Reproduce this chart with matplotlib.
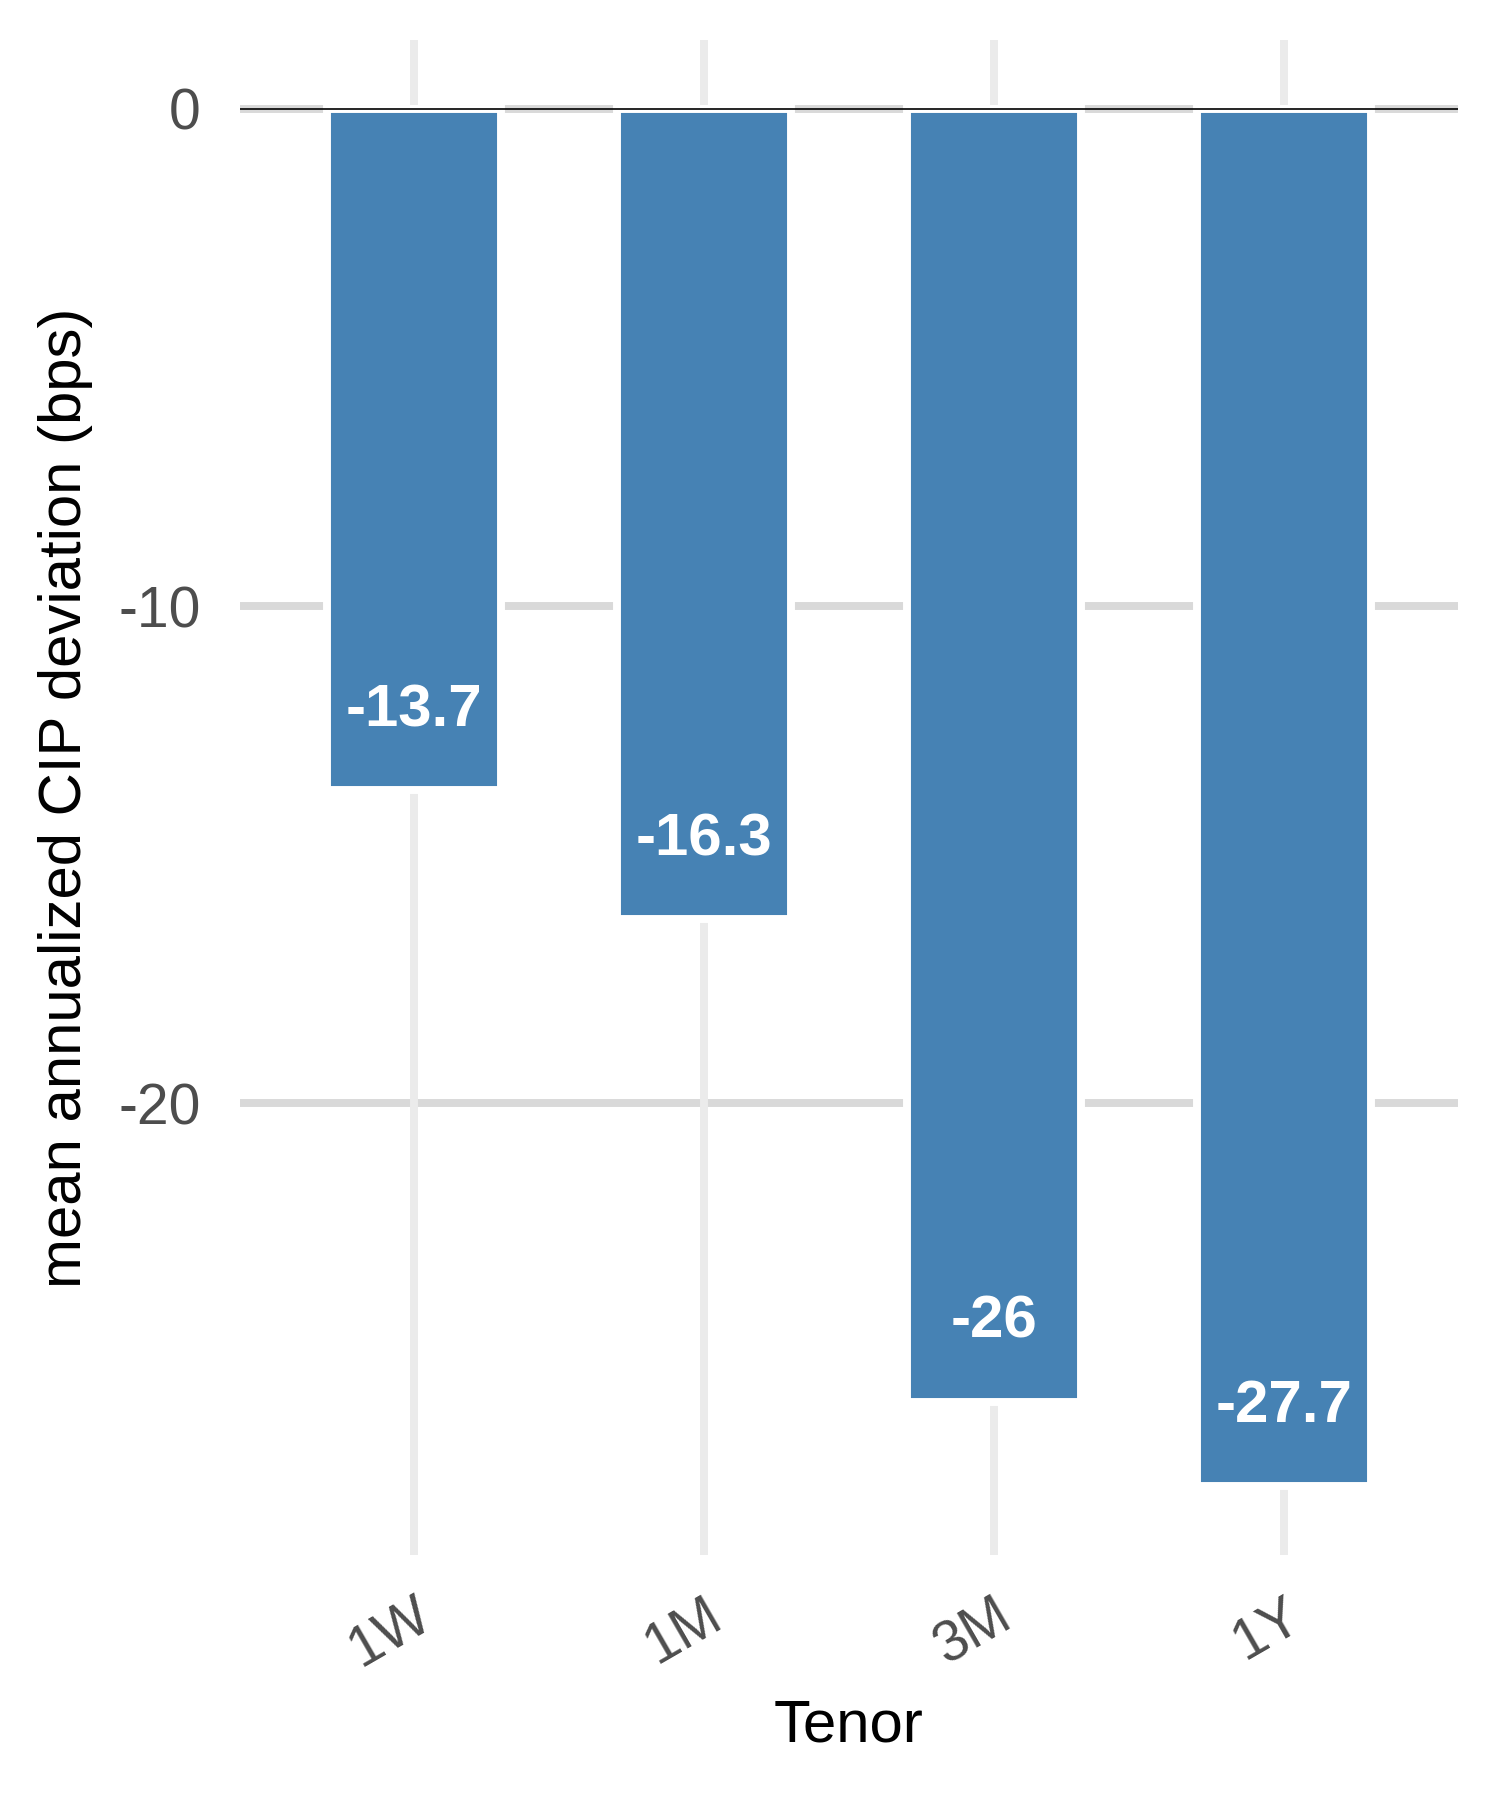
import matplotlib
matplotlib.use("Agg")
import matplotlib.pyplot as plt

plt.rcParams['font.family'] = ['Liberation Sans', 'DejaVu Sans']
plt.rcParams['axes.unicode_minus'] = False

# data
tenors = ['1W', '1M', '3M', '1Y']
cip_mean = [-13.7, -16.3, -26.0, -27.7]
bar_labels = ['-13.7', '-16.3', '-26', '-27.7']
y_ticks = [0, -10, -20]

fig = plt.figure(figsize=(5, 6), dpi=300)
ax = fig.add_axes([0.16, 0.1361, 0.8117, 0.8417])

x = range(len(tenors))

# grid (ggplot minimal look)
for t in y_ticks:
    ax.axhline(t, color='#D9D9D9', lw=1.9, zorder=0)
for xi in x:
    ax.axvline(xi, color='#EBEBEB', lw=1.9, zorder=0)

ax.bar(x, cip_mean, width=0.6, color='#4682B4', edgecolor='white', linewidth=1.9, zorder=2)
ax.axhline(0, color='black', lw=0.4, zorder=3)

for xi, v, lab in zip(x, cip_mean, bar_labels):
    ax.annotate(lab, (xi, v), xytext=(0, 19), textcoords='offset points',
                ha='center', va='center', color='white', fontsize=14.4,
                fontweight='bold', zorder=4)

lo = min(cip_mean)
ax.set_ylim(lo * 1.05, -lo * 0.05)
ax.set_xlim(-0.6, len(tenors) - 0.4)
ax.set_yticks(y_ticks)
ax.set_yticklabels([str(t) for t in y_ticks])
ax.set_xticks(list(x))
ax.set_xticklabels(tenors, rotation=30, ha='right', rotation_mode='anchor')

ax.tick_params(axis='both', length=0, labelsize=13.7, colors='#4D4D4D')
ax.tick_params(axis='y', pad=9.5)
ax.tick_params(axis='x', pad=8)
for s in ax.spines.values():
    s.set_visible(False)

ax.set_xlabel('Tenor', fontsize=14.4, color='black', labelpad=5)
ax.set_ylabel('mean annualized CIP deviation (bps)', fontsize=14.4, color='black', labelpad=6)

fig.savefig('out.png', dpi=300, facecolor='white')
